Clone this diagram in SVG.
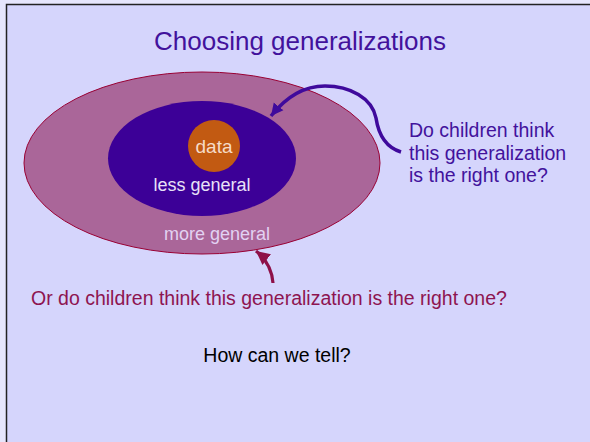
<svg xmlns="http://www.w3.org/2000/svg" width="590" height="442" viewBox="0 0 590 442">
<defs>
<style>
text{font-family:"Liberation Sans",Arial,sans-serif}
.q{font-size:19.5px}
</style>
<marker id="ahP" viewBox="0 0 10 10" refX="10" refY="5" markerWidth="3.5" markerHeight="4" orient="auto" markerUnits="strokeWidth"><path d="M0,0 L10,5 L0,10 Z" fill="#3F0A9C"/></marker>
<marker id="ahM" viewBox="0 0 10 10" refX="10" refY="5" markerWidth="4.3" markerHeight="4.7" orient="auto" markerUnits="strokeWidth"><path d="M0,0 L10,5 L0,10 Z" fill="#8E1048"/></marker>
</defs>
<rect x="0" y="0" width="590" height="442" fill="#E6E6FC"/>
<rect x="6" y="4" width="584" height="438" fill="#D5D5FC"/>
<path d="M6.5,442 V4.5 H590" fill="none" stroke="#222" stroke-width="1.5"/>
<text x="300" y="50" text-anchor="middle" font-size="26" fill="#42129C">Choosing generalizations</text>
<g id="outer">
<ellipse cx="202" cy="163" rx="178" ry="91" fill="#AA6699" stroke="#990033" stroke-width="1"/>
<text x="217" y="240" text-anchor="middle" font-size="18" fill="#E2D2F2">more general</text>
</g>
<g id="inner">
<ellipse cx="202" cy="158.5" rx="94" ry="57.5" fill="#3C0097"/>
<text x="202" y="191" text-anchor="middle" font-size="18" fill="#E8E0F8">less general</text>
</g>
<g id="data">
<circle cx="214" cy="146" r="26" fill="#C25A12"/>
<text x="214" y="153" text-anchor="middle" font-size="19" fill="#F6DCC8">data</text>
</g>
<g id="connectors">
<path d="M401,152 C388,148 379,138 376,118 C372,98 350,86 325,86 C305,86 286,97 271,116" fill="none" stroke="#3F0A9C" stroke-width="3.5" marker-end="url(#ahP)"/>
<path d="M273,283 C272,270 266,259 256,251" fill="none" stroke="#8E1048" stroke-width="3.2" marker-end="url(#ahM)"/>
</g>
<g id="q1">
<text class="q" x="409" y="137" fill="#42129C">Do children think</text>
<text class="q" x="409" y="160" fill="#42129C">this generalization</text>
<text class="q" x="409" y="182" fill="#42129C">is the right one?</text>
</g>
<g id="q2">
<text class="q" x="31" y="305" fill="#8E1450">Or do children think this generalization is the right one?</text>
</g>
<g id="q3">
<text class="q" x="277" y="362" text-anchor="middle" fill="#000">How can we tell?</text>
</g>
</svg>
